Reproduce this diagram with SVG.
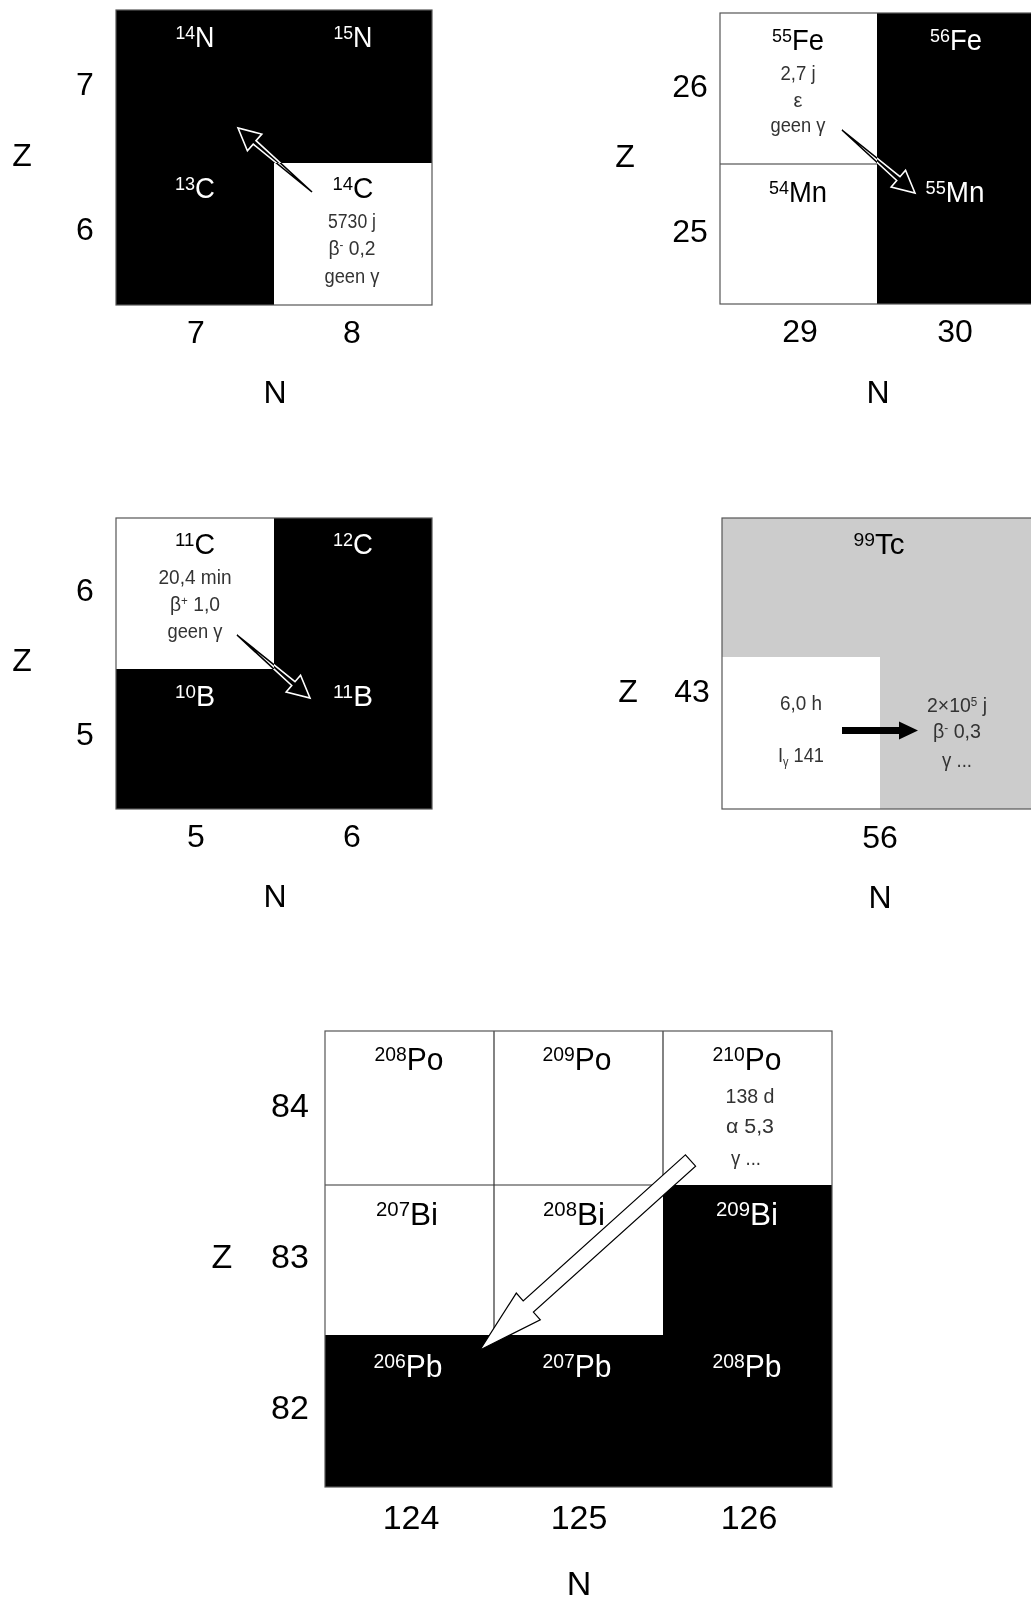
<svg xmlns="http://www.w3.org/2000/svg" width="1031" height="1601" viewBox="0 0 1031 1601">
<style>
text{font-family:"Liberation Sans",Arial,sans-serif;text-anchor:middle;fill:#000}
.lbl{font-size:29px}
.lbl .s{font-size:19px}
.big{font-size:31px}
.big .s{font-size:20px}
.ax{font-size:32px}
.ax2{font-size:34px}
.dat{font-size:20px;fill:#333}
.w,.w tspan{fill:#fff}
.blk{fill:#000}
.wht{fill:#fff}
.gry{fill:#cccccc}
.frame{fill:none;stroke:#555;stroke-width:1.2}
.grid{stroke:#333;stroke-width:1.2;fill:none}
.harrow{fill:#fff;stroke:#000;stroke-width:1.2;stroke-linejoin:miter}
.xarrow{fill:none;stroke:#fff;stroke-width:1.6;stroke-linejoin:miter;mix-blend-mode:difference}
</style>
<rect width="1031" height="1601" fill="#fff"/>

<!-- Panel 1 -->
<g id="panel1">
  <rect class="blk" x="116" y="10" width="316" height="295"/>
  <rect class="wht" x="274" y="163" width="158" height="142"/>
  <rect class="frame" x="116" y="10" width="316" height="295"/>
  <g id="n14"><text class="lbl w" x="195" y="47" textLength="39" lengthAdjust="spacingAndGlyphs"><tspan class="s" dy="-8">14</tspan><tspan dy="8">N</tspan></text></g>
  <g id="n15"><text class="lbl w" x="353" y="47" textLength="39" lengthAdjust="spacingAndGlyphs"><tspan class="s" dy="-8">15</tspan><tspan dy="8">N</tspan></text></g>
  <g id="c13"><text class="lbl w" x="195" y="198" textLength="40" lengthAdjust="spacingAndGlyphs"><tspan class="s" dy="-8">13</tspan><tspan dy="8">C</tspan></text></g>
  <g id="c14">
    <text class="lbl" x="353" y="198" textLength="41" lengthAdjust="spacingAndGlyphs"><tspan class="s" dy="-8">14</tspan><tspan dy="8">C</tspan></text>
    <text class="dat" x="352" y="228" textLength="48" lengthAdjust="spacingAndGlyphs">5730 j</text>
    <text class="dat" x="352" y="255" textLength="47" lengthAdjust="spacingAndGlyphs">β<tspan font-size="12" dy="-6">-</tspan><tspan dy="6"> 0,2</tspan></text>
    <text class="dat" x="352" y="283" textLength="55" lengthAdjust="spacingAndGlyphs">geen γ</text>
  </g>
  <text class="ax" x="85" y="95">7</text>
  <text class="ax" x="85" y="240">6</text>
  <text class="ax" x="22" y="166">Z</text>
  <text class="ax" x="196" y="343">7</text>
  <text class="ax" x="352" y="343">8</text>
  <text class="ax" x="275" y="403">N</text>
</g>

<!-- Panel 2 -->
<g id="panel2">
  <rect class="wht" x="720" y="13" width="157" height="291"/>
  <rect class="blk" x="877" y="13" width="160" height="291"/>
  <line class="grid" x1="720" y1="164" x2="877" y2="164"/>
  <rect class="frame" x="720" y="13" width="320" height="291"/>
  <g id="fe55">
    <text class="lbl" x="798" y="50" textLength="52" lengthAdjust="spacingAndGlyphs"><tspan class="s" dy="-8">55</tspan><tspan dy="8">Fe</tspan></text>
    <text class="dat" x="798" y="80" textLength="35" lengthAdjust="spacingAndGlyphs">2,7 j</text>
    <text class="dat" x="798" y="107">ε</text>
    <text class="dat" x="798" y="132" textLength="55" lengthAdjust="spacingAndGlyphs">geen γ</text>
  </g>
  <g id="fe56"><text class="lbl w" x="956" y="50" textLength="52" lengthAdjust="spacingAndGlyphs"><tspan class="s" dy="-8">56</tspan><tspan dy="8">Fe</tspan></text></g>
  <g id="mn54"><text class="lbl" x="798" y="202" textLength="58" lengthAdjust="spacingAndGlyphs"><tspan class="s" dy="-8">54</tspan><tspan dy="8">Mn</tspan></text></g>
  <g id="mn55"><text class="lbl w" x="955" y="202" textLength="59" lengthAdjust="spacingAndGlyphs"><tspan class="s" dy="-8">55</tspan><tspan dy="8">Mn</tspan></text></g>
  <text class="ax" x="690" y="97">26</text>
  <text class="ax" x="690" y="242">25</text>
  <text class="ax" x="625" y="167">Z</text>
  <text class="ax" x="800" y="342">29</text>
  <text class="ax" x="955" y="342">30</text>
  <text class="ax" x="878" y="403">N</text>
</g>

<!-- Panel 3 -->
<g id="panel3">
  <rect class="blk" x="116" y="518" width="316" height="291"/>
  <rect class="wht" x="116" y="518" width="158" height="151"/>
  <rect class="frame" x="116" y="518" width="316" height="291"/>
  <g id="c11">
    <text class="lbl" x="195" y="554" textLength="40" lengthAdjust="spacingAndGlyphs"><tspan class="s" dy="-8">11</tspan><tspan dy="8">C</tspan></text>
    <text class="dat" x="195" y="584" textLength="73" lengthAdjust="spacingAndGlyphs">20,4 min</text>
    <text class="dat" x="195" y="611" textLength="50" lengthAdjust="spacingAndGlyphs">β<tspan font-size="12" dy="-6">+</tspan><tspan dy="6"> 1,0</tspan></text>
    <text class="dat" x="195" y="638" textLength="55" lengthAdjust="spacingAndGlyphs">geen γ</text>
  </g>
  <g id="c12"><text class="lbl w" x="353" y="554" textLength="40" lengthAdjust="spacingAndGlyphs"><tspan class="s" dy="-8">12</tspan><tspan dy="8">C</tspan></text></g>
  <g id="b10"><text class="lbl w" x="195" y="706" textLength="40" lengthAdjust="spacingAndGlyphs"><tspan class="s" dy="-8">10</tspan><tspan dy="8">B</tspan></text></g>
  <g id="b11"><text class="lbl w" x="353" y="706" textLength="40" lengthAdjust="spacingAndGlyphs"><tspan class="s" dy="-8">11</tspan><tspan dy="8">B</tspan></text></g>
  <text class="ax" x="85" y="601">6</text>
  <text class="ax" x="85" y="745">5</text>
  <text class="ax" x="22" y="671">Z</text>
  <text class="ax" x="196" y="847">5</text>
  <text class="ax" x="352" y="847">6</text>
  <text class="ax" x="275" y="907">N</text>
</g>

<!-- Panel 4 -->
<g id="panel4">
  <rect class="gry" x="722" y="518" width="320" height="291"/>
  <rect class="wht" x="722" y="657" width="158" height="152"/>
  <rect class="frame" x="722" y="518" width="320" height="291"/>
  <g id="tc99">
    <text class="lbl" x="879" y="554" textLength="51" lengthAdjust="spacingAndGlyphs"><tspan class="s" dy="-8">99</tspan><tspan dy="8">Tc</tspan></text>
  </g>
  <g id="tc99m">
    <text class="dat" x="801" y="710" textLength="42" lengthAdjust="spacingAndGlyphs">6,0 h</text>
    <text class="dat" x="801" y="762" textLength="46" lengthAdjust="spacingAndGlyphs">I<tspan font-size="12" dy="4">γ</tspan><tspan dy="-4"> 141</tspan></text>
  </g>
  <g id="tc99g">
    <text class="dat" x="957" y="712" textLength="60" lengthAdjust="spacingAndGlyphs">2×10<tspan font-size="12" dy="-6">5</tspan><tspan dy="6"> j</tspan></text>
    <text class="dat" x="957" y="738" textLength="48" lengthAdjust="spacingAndGlyphs">β<tspan font-size="12" dy="-6">-</tspan><tspan dy="6"> 0,3</tspan></text>
    <text class="dat" x="957" y="767" textLength="30" lengthAdjust="spacingAndGlyphs">γ ...</text>
  </g>
  <text class="ax" x="628" y="702">Z</text>
  <text class="ax" x="692" y="702">43</text>
  <text class="ax" x="880" y="848">56</text>
  <text class="ax" x="880" y="908">N</text>
</g>

<!-- Panel 5 -->
<g id="panel5">
  <rect class="wht" x="325" y="1031" width="507" height="456"/>
  <rect class="blk" x="663" y="1185" width="169" height="302"/>
  <rect class="blk" x="325" y="1335" width="507" height="152"/>
  <path class="grid" d="M494 1031V1335M663 1031V1185M325 1185H663"/>
  <rect class="frame" x="325" y="1031" width="507" height="456"/>
  <g id="po208"><text class="big" x="409" y="1070" textLength="69" lengthAdjust="spacingAndGlyphs"><tspan class="s" dy="-9">208</tspan><tspan dy="9">Po</tspan></text></g>
  <g id="po209"><text class="big" x="577" y="1070" textLength="69" lengthAdjust="spacingAndGlyphs"><tspan class="s" dy="-9">209</tspan><tspan dy="9">Po</tspan></text></g>
  <g id="po210">
    <text class="big" x="747" y="1070" textLength="69" lengthAdjust="spacingAndGlyphs"><tspan class="s" dy="-9">210</tspan><tspan dy="9">Po</tspan></text>
    <text class="dat" x="750" y="1103" textLength="49" lengthAdjust="spacingAndGlyphs">138 d</text>
    <text class="dat" x="750" y="1133" textLength="48" lengthAdjust="spacingAndGlyphs">α 5,3</text>
    <text class="dat" x="746" y="1165" textLength="30" lengthAdjust="spacingAndGlyphs">γ ...</text>
  </g>
  <g id="bi207"><text class="big" x="407" y="1225" textLength="62" lengthAdjust="spacingAndGlyphs"><tspan class="s" dy="-9">207</tspan><tspan dy="9">Bi</tspan></text></g>
  <g id="bi208"><text class="big" x="574" y="1225" textLength="62" lengthAdjust="spacingAndGlyphs"><tspan class="s" dy="-9">208</tspan><tspan dy="9">Bi</tspan></text></g>
  <g id="bi209"><text class="big w" x="747" y="1225" textLength="62" lengthAdjust="spacingAndGlyphs"><tspan class="s" dy="-9">209</tspan><tspan dy="9">Bi</tspan></text></g>
  <g id="pb206"><text class="big w" x="408" y="1377" textLength="69" lengthAdjust="spacingAndGlyphs"><tspan class="s" dy="-9">206</tspan><tspan dy="9">Pb</tspan></text></g>
  <g id="pb207"><text class="big w" x="577" y="1377" textLength="69" lengthAdjust="spacingAndGlyphs"><tspan class="s" dy="-9">207</tspan><tspan dy="9">Pb</tspan></text></g>
  <g id="pb208"><text class="big w" x="747" y="1377" textLength="69" lengthAdjust="spacingAndGlyphs"><tspan class="s" dy="-9">208</tspan><tspan dy="9">Pb</tspan></text></g>
  <text class="ax2" x="290" y="1117">84</text>
  <text class="ax2" x="290" y="1268">83</text>
  <text class="ax2" x="290" y="1419">82</text>
  <text class="ax2" x="222" y="1268">Z</text>
  <text class="ax2" x="411" y="1529">124</text>
  <text class="ax2" x="579" y="1529">125</text>
  <text class="ax2" x="749" y="1529">126</text>
  <text class="ax2" x="579" y="1595">N</text>
</g>

<!-- Connectors -->
<g id="connectors">
  <polygon class="xarrow" points="312,192 256,140.7 261.8,134.1 238,128 247.4,150.7 253.2,144.1"/>
  <polygon class="xarrow" points="842,130 899.98,176.73 905.54,170.29 915,193 891.16,186.95 896.72,180.51"/>
  <polygon class="xarrow" points="237,635 294.98,681.73 300.54,675.29 310,698 286.16,691.95 291.72,685.51"/>
  <polygon fill="#000" points="842,727 899,727 899,721.5 918,730.5 899,739.5 899,734 842,734"/>
  <polygon class="harrow" points="685.4,1154.9 523.2,1300.9 516.3,1293.1 480,1350 540.3,1319.9 533.4,1312.1 695.6,1166.2"/>
</g>
</svg>
